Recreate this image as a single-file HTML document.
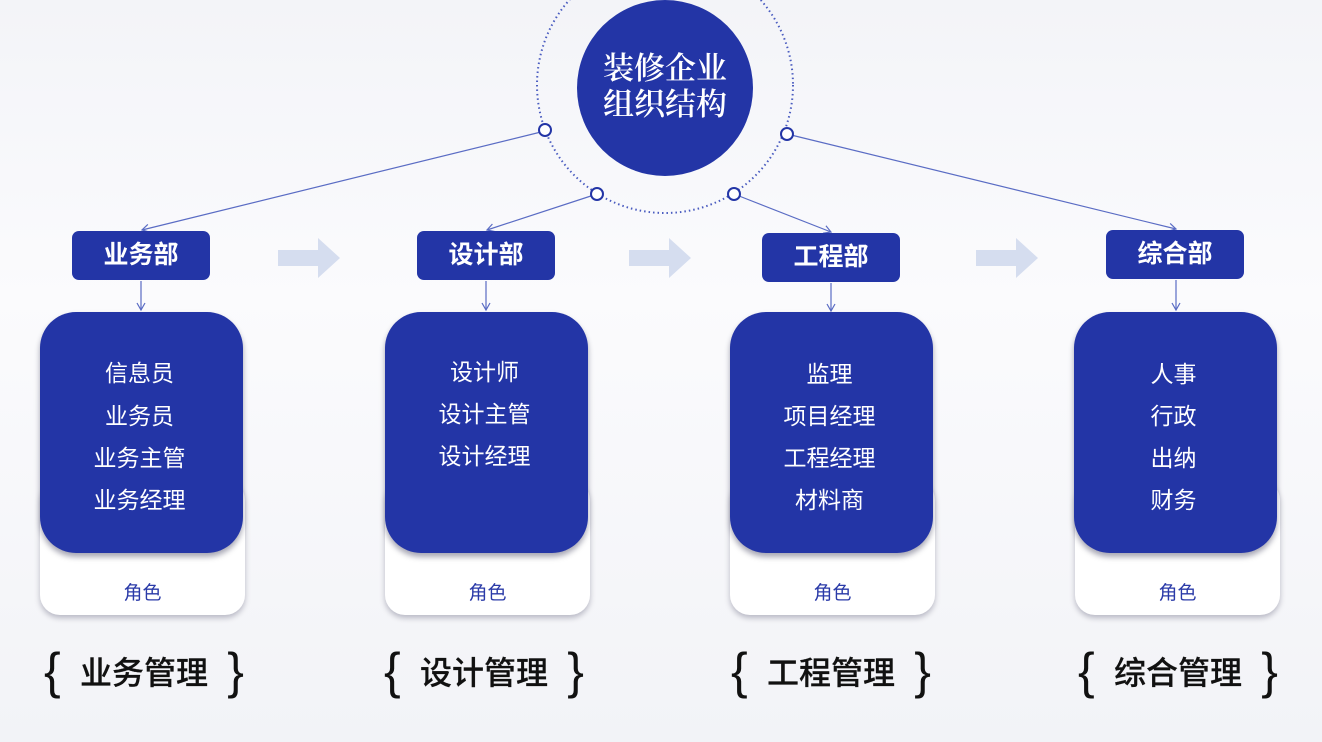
<!DOCTYPE html>
<html><head><meta charset="utf-8"><style>
body{margin:0;width:1322px;height:742px;overflow:hidden;background:linear-gradient(180deg,#f3f4f8 0%,#fbfbfd 40%,#f2f3f7 100%);font-family:"Liberation Sans","Noto Sans CJK SC",sans-serif;position:relative}
.d{position:absolute;width:138px;height:49px;background:#2335a6;border-radius:7px;color:#fff;font-weight:bold;font-size:25px;text-align:center;line-height:49px}
.w{position:absolute;width:205px;height:135px;top:480px;background:#fff;border-radius:20px;box-shadow:0 3px 6px rgba(0,0,40,.25);color:#2a3aa8;font-size:19px;text-align:center}
.w span{position:absolute;left:0;right:0;top:98px}
.c{position:absolute;width:203px;height:241px;top:312px;background:#2335a6;border-radius:36px;box-shadow:0 4px 6px rgba(0,0,40,.35);color:#fff;font-size:23px;text-align:center}
.c div{position:absolute;left:-4px;right:0;line-height:30px}
.b{position:absolute;top:646px;font-size:32px;font-weight:500;color:#111;width:200px;text-align:center;line-height:54px;-webkit-text-stroke:0.2px #111}
.b i{position:absolute;font-style:normal;font-size:50px;top:-2px;-webkit-text-stroke:0}
.b i.l{left:0}.b i.r{right:0}
</style></head><body>
<svg width="1322" height="742" style="position:absolute;left:0;top:0">
<defs><marker id="a" markerWidth="10" markerHeight="10" refX="8" refY="5" orient="auto" markerUnits="userSpaceOnUse"><path d="M1,1 L8,5 L1,9" fill="none" stroke="#5a6cc4" stroke-width="1.2"/></marker></defs>
<circle cx="665" cy="85" r="128" fill="none" stroke="#4a5cc0" stroke-width="2" stroke-dasharray="1.5 3"/>
<circle cx="665" cy="88" r="88" fill="#2335a6"/>
<g stroke="#5a6cc4" stroke-width="1.2" fill="none" marker-end="url(#a)">
<line x1="545" y1="131" x2="142" y2="230"/>
<line x1="597" y1="194" x2="487" y2="230"/>
<line x1="734" y1="194" x2="831" y2="232"/>
<line x1="787" y1="134" x2="1176" y2="229"/>
<line x1="141" y1="281" x2="141" y2="310"/>
<line x1="486" y1="281" x2="486" y2="310"/>
<line x1="831" y1="283" x2="831" y2="311"/>
<line x1="1176" y1="280" x2="1176" y2="310"/>
</g>
<g fill="#fff" stroke="#2335a6" stroke-width="2">
<circle cx="545" cy="130" r="6"/><circle cx="597" cy="194" r="6"/><circle cx="734" cy="194" r="6"/><circle cx="787" cy="134" r="6"/>
</g>
<g fill="#d5ddef">
<path d="M278,250 h40 v-12 l22,20 -22,20 v-12 h-40z"/>
<path d="M629,250 h40 v-12 l22,20 -22,20 v-12 h-40z"/>
<path d="M976,250 h40 v-12 l22,20 -22,20 v-12 h-40z"/>
</g>
<text x="665" y="79" fill="#fff" font-size="31" font-weight="600" text-anchor="middle" font-family="Noto Serif CJK SC,serif">装修企业</text>
<text x="665" y="115" fill="#fff" font-size="31" font-weight="600" text-anchor="middle" font-family="Noto Serif CJK SC,serif">组织结构</text>
</svg>
<div class="d" style="left:72px;top:231px">业务部</div>
<div class="d" style="left:417px;top:231px">设计部</div>
<div class="d" style="left:762px;top:233px">工程部</div>
<div class="d" style="left:1106px;top:230px">综合部</div>
<div class="w" style="left:40px"><span>角色</span></div>
<div class="w" style="left:385px"><span>角色</span></div>
<div class="w" style="left:730px"><span>角色</span></div>
<div class="w" style="left:1075px"><span>角色</span></div>
<div class="c" style="left:40px"><div style="top:46px">信息员</div><div style="top:89px">业务员</div><div style="top:131px">业务主管</div><div style="top:173px">业务经理</div></div>
<div class="c" style="left:385px"><div style="top:45px">设计师</div><div style="top:87px">设计主管</div><div style="top:129px">设计经理</div></div>
<div class="c" style="left:730px"><div style="top:47px">监理</div><div style="top:89px">项目经理</div><div style="top:131px">工程经理</div><div style="top:173px">材料商</div></div>
<div class="c" style="left:1074px"><div style="top:47px">人事</div><div style="top:89px">行政</div><div style="top:131px">出纳</div><div style="top:173px">财务</div></div>
<div class="b" style="left:44px"><i class="l">{</i>业务管理<i class="r">}</i></div>
<div class="b" style="left:384px"><i class="l">{</i>设计管理<i class="r">}</i></div>
<div class="b" style="left:731px"><i class="l">{</i>工程管理<i class="r">}</i></div>
<div class="b" style="left:1078px"><i class="l">{</i>综合管理<i class="r">}</i></div>
</body></html>
